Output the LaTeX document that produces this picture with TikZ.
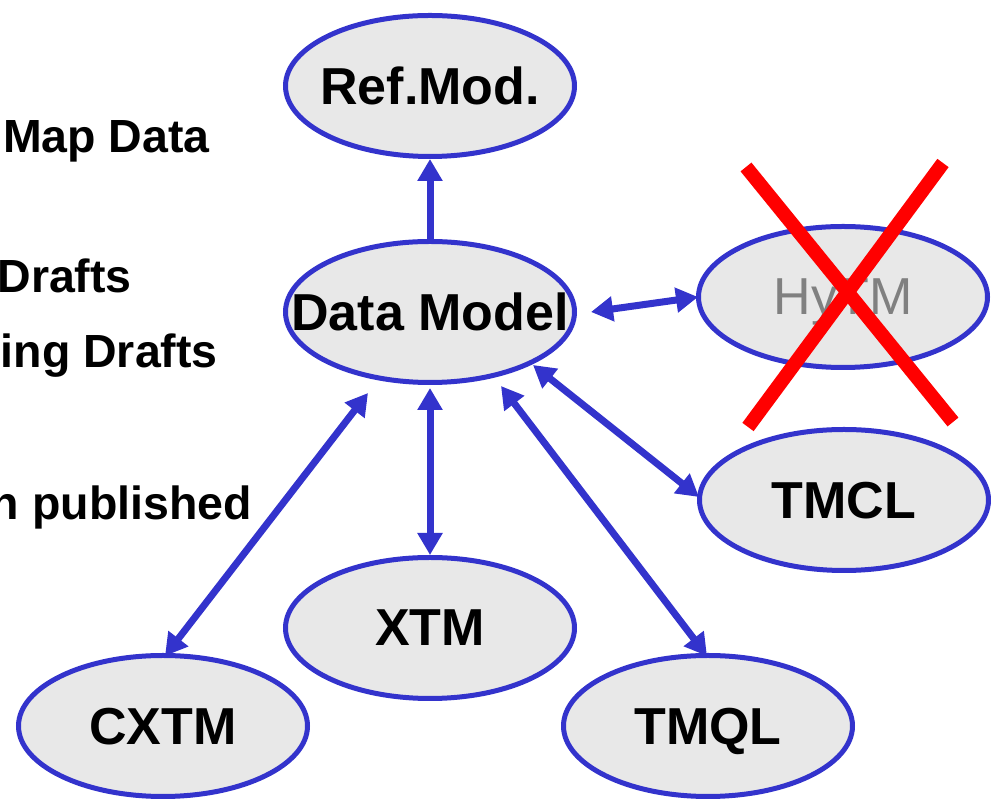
\documentclass[tikz,border=0pt]{standalone}
\usepackage{fontspec}
\setmainfont{Liberation Sans}
\usetikzlibrary{shapes.geometric,arrows.meta,calc}
\definecolor{eblue}{HTML}{3333CC}
\definecolor{efill}{HTML}{E8E8E8}
\definecolor{egray}{HTML}{808080}
\begin{document}
\begin{tikzpicture}[x=1pt,y=1pt,
  oval/.style={ellipse, draw=eblue, fill=efill, line width=5pt,
    minimum width=289pt, minimum height=141pt, inner xsep=-60pt, inner ysep=0pt,
    font=\bfseries\fontsize{52}{60}\selectfont, text depth=0pt},
  conn/.style={draw=eblue, line width=7pt, {Triangle[length=22pt,width=24pt]}-{Triangle[length=22pt,width=24pt]}},
  oneway/.style={draw=eblue, line width=7pt, -{Triangle[length=22pt,width=24pt]}},
  side/.style={anchor=base east, font=\bfseries\fontsize{46.5}{56}\selectfont, inner sep=0pt},
  crossline/.style={draw=red, line width=14pt}]
\useasboundingbox (0,0) rectangle (991,800);
\clip (0,0) rectangle (991,800);

% side texts
\node[side] (t1) at (210,647) {Map Data};
\node[side] (t2) at (132,507) {Drafts};
\node[side] (t3) at (218,432) {ing Drafts};
\node[side] (t4) at (252,280) {n published};

% ellipses
\node[oval] (ref) at (430,714) {Ref.Mod.};
\node[oval] (dm) at (430,488) {Data Model};
\node[oval, font=\fontsize{52}{60}\selectfont, text=egray] (hytm) at (843,503) {HyTM};
\node[oval] (tmcl) at (844,300) {TMCL};
\node[oval] (xtm) at (430,172) {XTM};
\node[oval] (cxtm) at (163,74) {CXTM};
\node[oval] (tmql) at (708,74) {TMQL};

% connectors
\path[oneway] (dm.north) -- (ref.south);
\path[conn] ($(dm.center)+(161,0)$) -- ($(hytm.center)+(-145,0)$);
\path[conn] ($(dm.center)+(103,-53)$) -- ($(tmcl.center)+(-145,3)$);
\path[conn] ($(dm.center)+(0,-76)$) -- ($(xtm.center)+(0,73)$);
\path[conn] ($(dm.center)+(-62,-81)$) -- ($(cxtm.center)+(2,70)$);
\path[conn] ($(dm.center)+(71,-74)$) -- ($(tmql.center)+(-1,70)$);

% red cross
\path[crossline] ($(hytm.center)+(-97,130)$) -- ($(hytm.center)+(110,-125)$);
\path[crossline] ($(hytm.center)+(100,134)$) -- ($(hytm.center)+(-95,-130)$);
\end{tikzpicture}
\end{document}
